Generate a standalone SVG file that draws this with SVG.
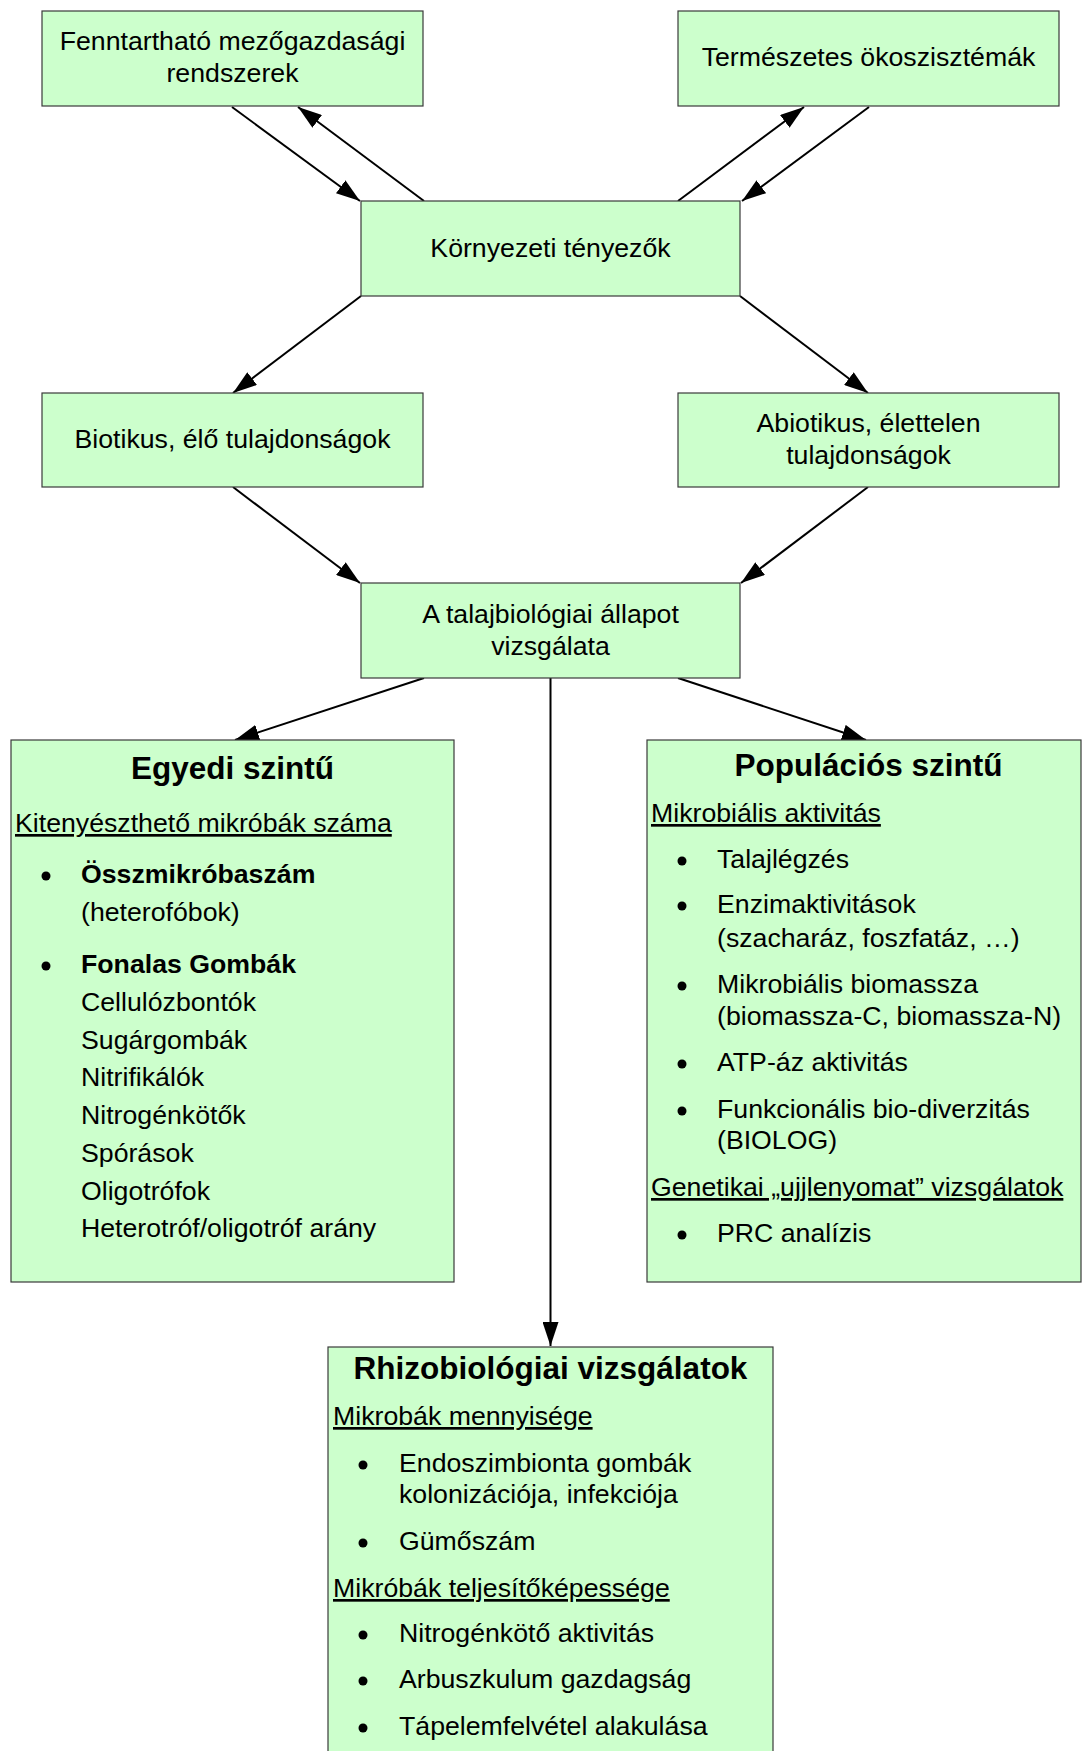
<svg xmlns="http://www.w3.org/2000/svg" width="1082" height="1751" viewBox="0 0 1082 1751">
  <style>
    .box { fill: #CCFFCC; stroke: #3a3a3a; stroke-width: 1.2; }
    .t { font-family: "Liberation Sans", Arial, sans-serif; font-size: 26.7px; fill: #000; }
    .c { text-anchor: middle; }
    .h { font-family: "Liberation Sans", Arial, sans-serif; font-size: 31.5px; font-weight: bold; text-anchor: middle; fill: #000; }
    .b { font-weight: bold; }
    .u { text-decoration: underline; }
    .dot { fill: #000; }
    .edge { stroke: #000; stroke-width: 2; fill: none; marker-end: url(#arrow); }
  </style>
  <defs>
    <marker id="arrow" markerUnits="userSpaceOnUse" viewBox="0 0 24 16" markerWidth="24" markerHeight="16" refX="24" refY="8" orient="auto">
      <path d="M0,0 L24,8 L0,16 z" fill="#000"/>
    </marker>
  </defs>
  <rect width="1082" height="1751" fill="#fff"/>

  <g id="connectors">
    <line class="edge" x1="232" y1="107" x2="360" y2="201"/>
    <line class="edge" x1="424" y1="201" x2="298" y2="107"/>
    <line class="edge" x1="678" y1="201" x2="804" y2="107"/>
    <line class="edge" x1="869" y1="107" x2="742" y2="201"/>
    <line class="edge" x1="361" y1="296" x2="233" y2="393"/>
    <line class="edge" x1="740" y1="296" x2="868" y2="393"/>
    <line class="edge" x1="233" y1="487" x2="360" y2="583"/>
    <line class="edge" x1="868" y1="487" x2="741" y2="583"/>
    <line class="edge" x1="424" y1="678" x2="235" y2="740"/>
    <line class="edge" x1="678" y1="678" x2="866" y2="740"/>
    <line class="edge" x1="550.5" y1="678" x2="550.5" y2="1346"/>
  </g>

  <g id="node-fenntarthato">
    <rect class="box" x="42" y="11" width="381" height="95"/>
    <text class="t c" x="232.5" y="50">Fenntartható mezőgazdasági</text>
    <text class="t c" x="232.5" y="82">rendszerek</text>
  </g>

  <g id="node-termeszetes">
    <rect class="box" x="678" y="11" width="381" height="95"/>
    <text class="t c" x="868.5" y="66">Természetes ökoszisztémák</text>
  </g>

  <g id="node-kornyezeti">
    <rect class="box" x="361" y="201" width="379" height="95"/>
    <text class="t c" x="550.5" y="257">Környezeti tényezők</text>
  </g>

  <g id="node-biotikus">
    <rect class="box" x="42" y="393" width="381" height="94"/>
    <text class="t c" x="232.5" y="448">Biotikus, élő tulajdonságok</text>
  </g>

  <g id="node-abiotikus">
    <rect class="box" x="678" y="393" width="381" height="94"/>
    <text class="t c" x="868.5" y="432">Abiotikus, élettelen</text>
    <text class="t c" x="868.5" y="464">tulajdonságok</text>
  </g>

  <g id="node-talajbiologiai">
    <rect class="box" x="361" y="583" width="379" height="95"/>
    <text class="t c" x="550.5" y="623">A talajbiológiai állapot</text>
    <text class="t c" x="550.5" y="655">vizsgálata</text>
  </g>

  <g id="node-egyedi">
    <rect class="box" x="11" y="740" width="443" height="542"/>
    <text class="h" x="232.5" y="779">Egyedi szintű</text>
    <text class="t u" x="15" y="832">Kitenyészthető mikróbák száma</text>
    <circle class="dot" cx="46" cy="876" r="4.5"/>
    <text class="t b" x="81" y="883">Összmikróbaszám</text>
    <text class="t" x="81" y="921">(heterofóbok)</text>
    <circle class="dot" cx="46" cy="966" r="4.5"/>
    <text class="t b" x="81" y="973">Fonalas Gombák</text>
    <text class="t" x="81" y="1011">Cellulózbontók</text>
    <text class="t" x="81" y="1049">Sugárgombák</text>
    <text class="t" x="81" y="1086">Nitrifikálók</text>
    <text class="t" x="81" y="1124">Nitrogénkötők</text>
    <text class="t" x="81" y="1162">Spórások</text>
    <text class="t" x="81" y="1200">Oligotrófok</text>
    <text class="t" x="81" y="1237">Heterotróf/oligotróf arány</text>
  </g>

  <g id="node-populacios">
    <rect class="box" x="647" y="740" width="434" height="542"/>
    <text class="h" x="868.5" y="776">Populációs szintű</text>
    <text class="t u" x="651" y="822">Mikrobiális aktivitás</text>
    <circle class="dot" cx="682" cy="861" r="4.5"/>
    <text class="t" x="717" y="868">Talajlégzés</text>
    <circle class="dot" cx="682" cy="906" r="4.5"/>
    <text class="t" x="717" y="913">Enzimaktivitások</text>
    <text class="t" x="717" y="947">(szacharáz, foszfatáz, …)</text>
    <circle class="dot" cx="682" cy="986" r="4.5"/>
    <text class="t" x="717" y="993">Mikrobiális biomassza</text>
    <text class="t" x="717" y="1025">(biomassza-C, biomassza-N)</text>
    <circle class="dot" cx="682" cy="1064" r="4.5"/>
    <text class="t" x="717" y="1071">ATP-áz aktivitás</text>
    <circle class="dot" cx="682" cy="1111" r="4.5"/>
    <text class="t" x="717" y="1118">Funkcionális bio-diverzitás</text>
    <text class="t" x="717" y="1149">(BIOLOG)</text>
    <text class="t u" x="651" y="1196">Genetikai „ujjlenyomat” vizsgálatok</text>
    <circle class="dot" cx="682" cy="1235" r="4.5"/>
    <text class="t" x="717" y="1242">PRC analízis</text>
  </g>

  <g id="node-rhizobiologiai">
    <rect class="box" x="328" y="1347" width="445" height="420"/>
    <text class="h" x="550.5" y="1379">Rhizobiológiai vizsgálatok</text>
    <text class="t u" x="333" y="1425">Mikrobák mennyisége</text>
    <circle class="dot" cx="363" cy="1465" r="4.5"/>
    <text class="t" x="399" y="1472">Endoszimbionta gombák</text>
    <text class="t" x="399" y="1503">kolonizációja, infekciója</text>
    <circle class="dot" cx="363" cy="1543" r="4.5"/>
    <text class="t" x="399" y="1550">Gümőszám</text>
    <text class="t u" x="333" y="1597">Mikróbák teljesítőképessége</text>
    <circle class="dot" cx="363" cy="1635" r="4.5"/>
    <text class="t" x="399" y="1642">Nitrogénkötő aktivitás</text>
    <circle class="dot" cx="363" cy="1681" r="4.5"/>
    <text class="t" x="399" y="1688">Arbuszkulum gazdagság</text>
    <circle class="dot" cx="363" cy="1728" r="4.5"/>
    <text class="t" x="399" y="1735">Tápelemfelvétel alakulása</text>
  </g>
</svg>
